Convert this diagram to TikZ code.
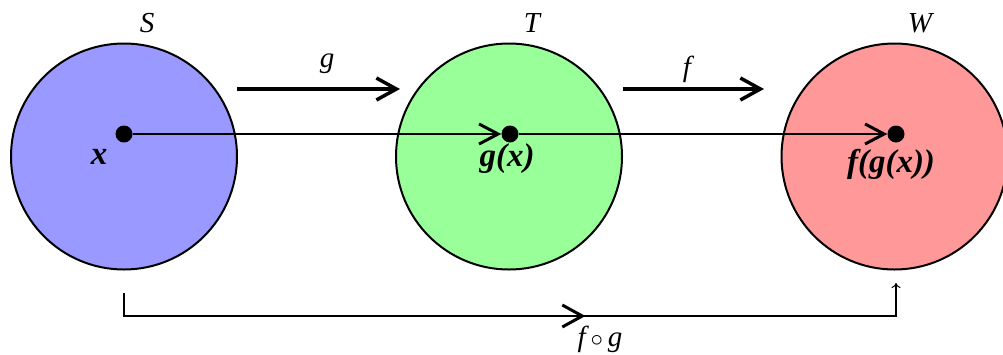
\documentclass[tikz,border=0pt]{standalone}
\usepackage{fontspec}
\setmainfont{Liberation Serif}
\usetikzlibrary{arrows.meta,decorations.markings}
\definecolor{cblue}{HTML}{9999FF}
\definecolor{cgreen}{HTML}{99FF99}
\definecolor{cred}{HTML}{FF9999}
\tikzset{
  setcircle/.style={circle, draw=black, line width=2pt, minimum size=226pt, inner sep=0pt},
  dotnode/.style={circle, fill=black, inner sep=0pt, minimum size=17pt},
  lbl/.style={font=\fontsize{29}{33}\selectfont\itshape, inner sep=0pt},
  boldlbl/.style={font=\fontsize{33}{38}\selectfont\bfseries\itshape, inner sep=0pt},
  bigarrow/.style={line width=3.5pt, -{Straight Barb[length=20pt, width=22pt, line width=3.5pt]}},
  thinarrow/.style={line width=2pt, -{Straight Barb[length=19pt, width=20pt, line width=3pt]}},
}
\begin{document}
\begin{tikzpicture}[x=1pt, y=-1pt]
\useasboundingbox (0,0) rectangle (1003,354);
% sets
\node[setcircle, fill=cblue]  (S) at (124,156.5) {};
\node[setcircle, fill=cgreen] (T) at (509,156.5) {};
\node[setcircle, fill=cred]   (W) at (894.5,156.5) {};
% set labels
\node[lbl] (lS) at (147,23) {S};
\node[lbl] (lT) at (532,23) {T};
\node[lbl] (lW) at (920,23) {W};
% function arrows
\coordinate (g1) at (237,89);
\coordinate (g2) at (400,89);
\coordinate (f1) at (623,89);
\coordinate (f2) at (764,89);
\draw[bigarrow] (g1) -- (g2);
\draw[bigarrow] (f1) -- (f2);
\node[lbl] (lg) at (327,64) {g};
\node[lbl] (lf) at (687,69) {f};
% points
\node[dotnode] (dx) at (124,134) {};
\node[dotnode] (dg) at (510,134) {};
\node[dotnode] (dw) at (896,134) {};
\draw[thinarrow] (dx) -- (dg);
\draw[thinarrow] (dg) -- (dw);
\node[boldlbl] (lx) at (99,157) {x};
\node[boldlbl] (lgx) at (507,159) {g(x)};
\node[boldlbl] (lfgx) at (891,164) {f(g(x))};
% composition
\coordinate (c1) at (124,293);
\coordinate (c2) at (124,316);
\coordinate (c3) at (896,316);
\coordinate (c4) at (896,283);
\draw[line width=1.8pt, -{To[length=5pt, width=9pt, line width=1pt]},
  postaction={decorate},
  decoration={markings, mark=at position 0.585 with {\arrow{Straight Barb[length=20pt, width=22pt, line width=3pt]}}}]
  (c1) -- (c2) -- (c3) -- (c4);
\node[lbl] (lfg) at (600,339) {f\,{\fontsize{36}{40}\selectfont$\circ$}\,g};
\end{tikzpicture}
\end{document}
